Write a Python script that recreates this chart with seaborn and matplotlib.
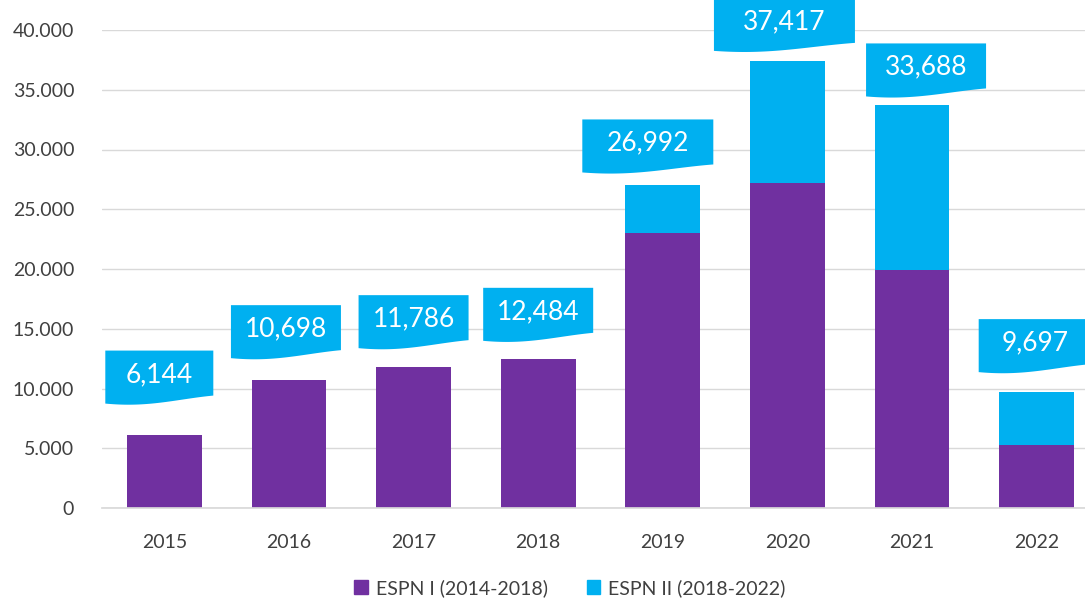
import numpy as np
import pandas as pd
import matplotlib.pyplot as plt
from matplotlib.patches import Polygon, Patch
import matplotlib.ticker as mticker
import seaborn as sns

# data
years = ["2015", "2016", "2017", "2018", "2019", "2020", "2021", "2022"]
espn_1 = [6144, 10698, 11786, 12484, 23050, 27200, 19900, 5270]
totals = [6144, 10698, 11786, 12484, 26992, 37417, 33688, 9697]
total_labels = ["6,144", "10,698", "11,786", "12,484", "26,992", "37,417", "33,688", "9,697"]

# banner layout (pixels): width, horizontal shift from bar centre, gap above bar
banner_w = [108, 110, 110, 110, 131, 141, 120, 112]
banner_dx = [-5, -3, 0, 0, -15, -3, 14, -2]
banner_gap = [31, 22, 19, 18, 13, 10, 9, 20]

purple = "#7030A0"
blue = "#00B0F0"

df = pd.DataFrame({"Year": years, "ESPN I": espn_1, "Total": totals})

sns.set_theme(style="white")
plt.rcParams['font.family'] = ['Lato', 'DejaVu Sans']

fig = plt.figure(figsize=(10.85, 5.98), dpi=100)
ax = fig.add_axes([102 / 1085, 90 / 598, 997 / 1085, 478 / 598])

# stacked look: totals in blue, ESPN I on top in purple
sns.barplot(data=df, x="Year", y="Total", color=blue, width=0.6, ax=ax, saturation=1, linewidth=0)
sns.barplot(data=df, x="Year", y="ESPN I", color=purple, width=0.6, ax=ax, saturation=1, linewidth=0)

ax.set_ylim(0, 40000)
ax.set_xlim(-0.5, 7.5)
ax.yaxis.set_major_locator(mticker.MultipleLocator(5000))
ax.yaxis.set_major_formatter(mticker.FuncFormatter(lambda v, p: "0" if v == 0 else f"{int(v):,}".replace(",", ".")))
ax.grid(axis="y", color="#d9d9d9", linewidth=1)
ax.set_axisbelow(True)
for s in ["top", "right", "left"]:
    ax.spines[s].set_visible(False)
ax.spines["bottom"].set_color("#d9d9d9")
ax.tick_params(axis="both", length=0, labelsize=14, labelcolor="#404040")
ax.tick_params(axis="y", pad=20)
ax.tick_params(axis="x", pad=19)
ax.set_xlabel("")
ax.set_ylabel("")

# banner labels with a wavy bottom edge
px_x = 8 / 997          # x data units per pixel
px_y = 40000 / 478      # y data units per pixel
bh = 53 * px_y
amp = 4 * px_y
for i, (tot, lab) in enumerate(zip(totals, total_labels)):
    bw = banner_w[i] * px_x
    cx = i + banner_dx[i] * px_x
    base = tot + banner_gap[i] * px_y     # lower-left corner of banner
    t = np.linspace(0, 1, 40)
    xs = cx - bw / 2 + bw * t
    top = np.full_like(t, base + bh)
    bot = base + amp * (1 - np.cos(np.pi * t)) - 0.8 * amp * np.sin(np.pi * t)
    pts = np.vstack([np.column_stack([xs, top]), np.column_stack([xs[::-1], bot[::-1]])])
    ax.add_patch(Polygon(pts, closed=True, facecolor=blue, edgecolor="none", clip_on=False, zorder=5))
    ax.text(cx, base + 0.55 * bh, lab, ha="center", va="center", color="white", fontsize=19,
            zorder=6, clip_on=False)

handles = [Patch(color=purple, label="ESPN I (2014-2018)"), Patch(color=blue, label="ESPN II (2018-2022)")]
fig.legend(handles=handles, loc="center", bbox_to_anchor=(570 / 1085, 1 - 588 / 598), ncol=2,
           frameon=False, fontsize=14, handlelength=0.7, handleheight=0.7, columnspacing=2.0,
           handletextpad=0.4, labelcolor="#404040")

fig.savefig("out.png", dpi=100)
